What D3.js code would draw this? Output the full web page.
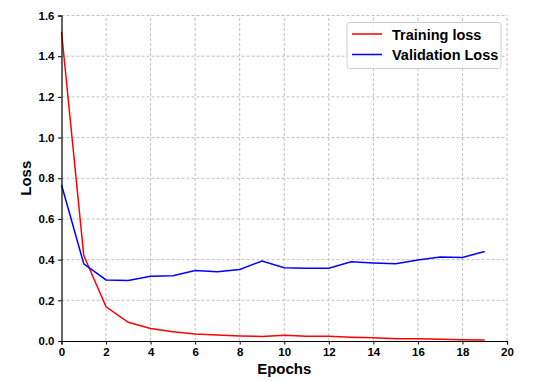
<!DOCTYPE html>
<html>
<head>
<meta charset="utf-8">
<script src="https://cdn.jsdelivr.net/npm/d3@7"></script>
<style>
  body { margin: 0; background: #fff; }
  svg text { font-family: "Liberation Sans", Arial, sans-serif; font-weight: bold; }
</style>
</head>
<body>
<div id="chart"></div>
<script>
var epochs = d3.range(0, 20);
var trainingLoss = [1.52, 0.42, 0.168, 0.092, 0.061, 0.045, 0.034, 0.030, 0.025, 0.022,
                    0.028, 0.023, 0.023, 0.019, 0.016, 0.011, 0.011, 0.008, 0.006, 0.005];
var validationLoss = [0.768, 0.379, 0.300, 0.298, 0.318, 0.321, 0.346, 0.341, 0.352, 0.393,
                      0.360, 0.358, 0.358, 0.390, 0.384, 0.380, 0.398, 0.413, 0.411, 0.440];
var xTicks = [0, 2, 4, 6, 8, 10, 12, 14, 16, 18, 20];
var yTicks = [0, 0.2, 0.4, 0.6, 0.8, 1.0, 1.2, 1.4, 1.6];
var seriesNames = ["Training loss", "Validation Loss"];
var seriesColors = ["#ff0000", "#0000ff"];

var W = 554, H = 381;
var margin = {left: 61.5, right: 47, top: 15.5, bottom: 40};

var svg = d3.select("#chart").append("svg")
  .attr("width", W).attr("height", H);

var x = d3.scaleLinear().domain([0, 20]).range([margin.left, W - margin.right]);
var y = d3.scaleLinear().domain([0, 1.6]).range([H - margin.bottom, margin.top]);

// grid
var grid = svg.append("g").attr("class", "grid");
grid.selectAll(".gx").data(xTicks.slice(1)).enter().append("line")
  .attr("x1", d => x(d)).attr("x2", d => x(d))
  .attr("y1", y(0)).attr("y2", y(1.6))
  .attr("stroke", "#b0b0b0").attr("stroke-width", 0.8).attr("stroke-dasharray", "3,2");
grid.selectAll(".gy").data(yTicks.slice(1)).enter().append("line")
  .attr("x1", x(0)).attr("x2", x(20))
  .attr("y1", d => y(d)).attr("y2", d => y(d))
  .attr("stroke", "#b0b0b0").attr("stroke-width", 0.8).attr("stroke-dasharray", "3,2");

// lines
var allSeries = [trainingLoss, validationLoss];
var line = d3.line().x((d, i) => x(epochs[i])).y(d => y(d));
svg.selectAll(".series").data(allSeries).enter().append("path")
  .attr("d", d => line(d))
  .attr("fill", "none")
  .attr("stroke", (d, i) => seriesColors[i])
  .attr("stroke-width", 1.5);

// axes
var xAxis = svg.append("g").attr("transform", "translate(0," + y(0) + ")")
  .call(d3.axisBottom(x).tickValues(xTicks).tickFormat(d3.format("d")).tickSize(3.5).tickPadding(3.5));
var yAxis = svg.append("g").attr("transform", "translate(" + x(0) + ",0)")
  .call(d3.axisLeft(y).tickValues(yTicks).tickFormat(d3.format(".1f")).tickSize(3.5).tickPadding(3.5));
[xAxis, yAxis].forEach(function (a) {
  a.select(".domain").attr("stroke", "#000").attr("stroke-width", 1.2);
  a.selectAll(".tick line").attr("stroke", "#000").attr("stroke-width", 1);
  a.selectAll(".tick text").attr("fill", "#000").style("font-size", "11.5px")
    .style("font-family", "'Liberation Sans', Arial, sans-serif").style("font-weight", "bold");
});

// axis labels
svg.append("text").attr("x", (x(0) + x(20)) / 2).attr("y", 374)
  .attr("text-anchor", "middle").style("font-size", "15px").text("Epochs");
svg.append("text").attr("transform", "translate(31," + ((y(0) + y(1.6)) / 2) + ") rotate(-90)")
  .attr("text-anchor", "middle").style("font-size", "15px").text("Loss");

// legend
var legend = svg.append("g").attr("transform", "translate(347,22.5)");
legend.append("rect").attr("width", 154).attr("height", 46).attr("rx", 2.5)
  .attr("fill", "#fff").attr("fill-opacity", 0.8).attr("stroke", "#cccccc").attr("stroke-width", 1);
var li = legend.selectAll(".li").data(seriesNames).enter().append("g")
  .attr("transform", (d, i) => "translate(0," + (11.5 + i * 20.5) + ")");
li.append("line").attr("x1", 5).attr("x2", 35).attr("y1", 0).attr("y2", 0)
  .attr("stroke", (d, i) => seriesColors[i]).attr("stroke-width", 1.5);
li.append("text").attr("x", 45).attr("y", 5.5).style("font-size", "14.5px").text(d => d);
</script>
</body>
</html>
